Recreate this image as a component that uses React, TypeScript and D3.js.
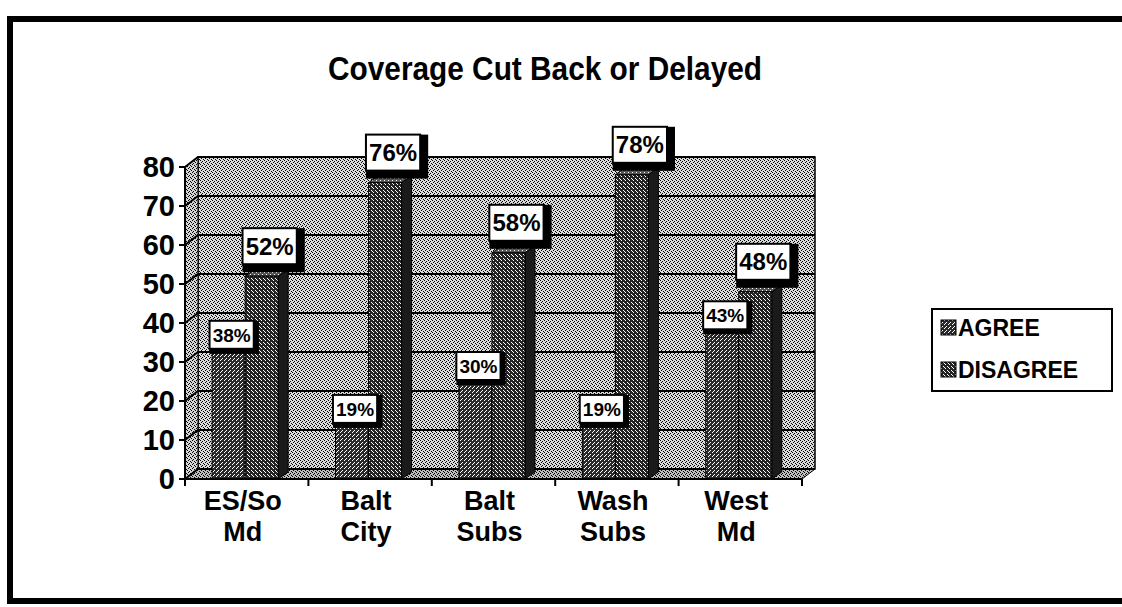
import React from "react";
import * as d3 from "d3";

const categories = ["ES/So|Md", "Balt|City", "Balt|Subs", "Wash|Subs", "West|Md"];
const series = ["AGREE", "DISAGREE"];
const agreeValues = [38, 19, 30, 19, 43];
const disagreeValues = [52, 76, 58, 78, 48];
const yTicks = [0, 10, 20, 30, 40, 50, 60, 70, 80];

const W = 1122;
const H = 607;
const FONT = "Arial, 'Liberation Sans', sans-serif";

// 3D offsets
const wallDx = 13;
const wallDy = -10;
const barDx = 10;
const barDy = -7;

const x = d3.scaleBand<string>().domain(categories).range([185, 802]);
const bw = x.bandwidth();
const sub = d3
  .scaleBand<string>()
  .domain(series)
  .range([bw * 0.22, bw * 0.755]);
const y = d3.scaleLinear().domain([0, 80]).range([479, 167]);

const pts = (p: [number, number][]) => p.map((d) => d.join(",")).join(" ");

const barStyles = {
  AGREE: { front: "url(#dA)", side: "#1e1e1e", top: "url(#dT)", swatch: "url(#dA)" },
  DISAGREE: { front: "url(#dD)", side: "#1a1a1a", top: "url(#dT)", swatch: "url(#dD)" },
} as Record<string, { front: string; side: string; top: string; swatch: string }>;

// small dither patterns to mimic the scanned halftone look
const Dither = ({ id, base, dot, cells }: { id: string; base: string; dot: string; cells: number[][] }) => (
  <pattern id={id} width={4} height={4} patternUnits="userSpaceOnUse">
    <rect width={4} height={4} fill={base} />
    {cells.map(([cx, cy], i) => (
      <rect key={i} x={cx} y={cy} width={1} height={1} fill={dot} />
    ))}
  </pattern>
);

const Bar = ({ cat, s, v }: { cat: string; s: string; v: number }) => {
  const x0 = (x(cat) as number) + (sub(s) as number);
  const w = sub.bandwidth();
  const y0 = y(0);
  const yt = y(v);
  const c = barStyles[s];
  return (
    <g stroke="#000" strokeWidth={1}>
      <polygon
        fill={c.side}
        points={pts([
          [x0 + w, y0],
          [x0 + w + barDx, y0 + barDy],
          [x0 + w + barDx, yt + barDy],
          [x0 + w, yt],
        ])}
      />
      <polygon
        fill={c.top}
        points={pts([
          [x0, yt],
          [x0 + w, yt],
          [x0 + w + barDx, yt + barDy],
          [x0 + barDx, yt + barDy],
        ])}
      />
      <rect x={x0} y={yt} width={w} height={y0 - yt} fill={c.front} />
    </g>
  );
};

const Label = ({ cat, s, v }: { cat: string; s: string; v: number }) => {
  const big = s === "DISAGREE";
  const fs = big ? 24 : 19;
  const text = `${v}%`;
  const tw = text.length * fs * 0.67;
  const bwid = tw + 6;
  const bh = big ? 36 : 28;
  const x0 = (x(cat) as number) + (sub(s) as number);
  const cx = x0 + sub.bandwidth() / 2 + (big ? 8 : 3);
  const cy = big ? y(v) - 30 : y(v) + 4;
  const sh = big ? 8 : 5;
  return (
    <g>
      <rect x={cx - bwid / 2} y={cy - bh / 2} width={bwid + sh} height={bh + sh} fill="#000" />
      <rect
        x={cx - bwid / 2}
        y={cy - bh / 2}
        width={bwid}
        height={bh}
        fill="#fff"
        stroke="#000"
        strokeWidth={2}
      />
      <text
        x={cx}
        y={cy}
        dy="0.36em"
        textAnchor="middle"
        fontFamily={FONT}
        fontWeight="bold"
        fontSize={fs}
        fill="#000"
      >
        {text}
      </text>
    </g>
  );
};

export default function App() {
  const xl = 185;
  const xr = 802;
  const y0 = y(0);
  const yTop = y(80);
  const values: Record<string, number[]> = { AGREE: agreeValues, DISAGREE: disagreeValues };

  return (
    <svg
      width={W}
      height={H}
      viewBox={`0 0 ${W} ${H}`}
      style={{ position: "absolute", left: 0, top: 0, background: "#fff" }}
    >
      <defs>
        <Dither id="wall" base="#dcdcdc" dot="#000" cells={[[0, 0], [2, 1], [1, 2], [3, 3]]} />
        <Dither id="side" base="#d4d4d4" dot="#000" cells={[[0, 0], [2, 1], [1, 3], [3, 2]]} />
        <Dither id="floor" base="#bdbdbd" dot="#000" cells={[[0, 0], [2, 1], [1, 2], [3, 3]]} />
        <Dither id="dA" base="#2a2a2a" dot="#fff" cells={[[0, 0], [2, 2], [1, 3]]} />
        <Dither id="dD" base="#242424" dot="#fff" cells={[[1, 0], [3, 2], [0, 3]]} />
        <Dither id="dT" base="#555" dot="#fff" cells={[[0, 0], [2, 2]]} />
      </defs>
      <rect x={0} y={0} width={W} height={H} fill="#fff" />
      {/* outer frame */}
      <rect x={10} y={19} width={1125} height={582} fill="none" stroke="#000" strokeWidth={6} />

      {/* title */}
      <text
        x={545}
        y={80}
        textAnchor="middle"
        fontFamily={FONT}
        fontWeight="bold"
        fontSize={33}
        textLength={434}
        lengthAdjust="spacingAndGlyphs"
        fill="#000"
      >
        Coverage Cut Back or Delayed
      </text>

      {/* back wall */}
      <rect
        x={xl + wallDx}
        y={yTop + wallDy}
        width={xr - xl}
        height={y0 - yTop}
        fill="url(#wall)"
        stroke="#000"
        strokeWidth={1.5}
      />
      {/* side wall */}
      <polygon
        fill="url(#side)"
        stroke="#000"
        strokeWidth={1}
        points={pts([
          [xl, y0],
          [xl + wallDx, y0 + wallDy],
          [xl + wallDx, yTop + wallDy],
          [xl, yTop],
        ])}
      />
      {/* floor */}
      <polygon
        fill="url(#floor)"
        stroke="#000"
        strokeWidth={1}
        points={pts([
          [xl, y0],
          [xr, y0],
          [xr + wallDx, y0 + wallDy],
          [xl + wallDx, y0 + wallDy],
        ])}
      />
      {/* gridlines */}
      <g stroke="#000" strokeWidth={2} fill="none">
        {yTicks.map((t) => (
          <polyline
            key={t}
            points={pts([
              [xl, y(t)],
              [xl + wallDx, y(t) + wallDy],
              [xr + wallDx, y(t) + wallDy],
            ])}
          />
        ))}
      </g>

      {/* bars */}
      {categories.map((c, i) => (
        <g key={c}>
          {series.map((s) => (
            <Bar key={s} cat={c} s={s} v={values[s][i]} />
          ))}
        </g>
      ))}

      {/* axes */}
      <g stroke="#000" strokeWidth={2}>
        <line x1={xl} x2={xl} y1={yTop} y2={y0} />
        {yTicks.map((t) => (
          <line key={t} x1={xl - 6} x2={xl} y1={y(t)} y2={y(t)} />
        ))}
        <line x1={xl} x2={xr} y1={y0} y2={y0} />
        {[...categories.map((c) => x(c) as number), xr].map((px, i) => (
          <line key={i} x1={px} x2={px} y1={y0} y2={y0 + 7} />
        ))}
      </g>
      <g fontFamily={FONT} fontWeight="bold" fill="#000">
        {yTicks.map((t) => (
          <text key={t} x={xl - 10} y={y(t)} dy="0.36em" textAnchor="end" fontSize={29}>
            {t}
          </text>
        ))}
        {categories.map((c) => {
          const cx = (x(c) as number) + bw / 2 - 4;
          return c.split("|").map((line, j) => (
            <text key={c + j} x={cx} y={510 + j * 31} textAnchor="middle" fontSize={27}>
              {line}
            </text>
          ));
        })}
      </g>

      {/* data labels */}
      {categories.map((c, i) => (
        <g key={c}>
          {series.map((s) => (
            <Label key={s} cat={c} s={s} v={values[s][i]} />
          ))}
        </g>
      ))}

      {/* legend */}
      <rect x={932} y={309} width={180} height={82} fill="#fff" stroke="#000" strokeWidth={2} />
      {series.map((s, i) => (
        <g key={s}>
          <rect
            x={941}
            y={320 + i * 42}
            width={15}
            height={15}
            fill={barStyles[s].swatch}
            stroke="#000"
            strokeWidth={1}
          />
          <text
            x={958}
            y={336 + i * 42}
            fontFamily={FONT}
            fontWeight="bold"
            fontSize={23}
            fill="#000"
          >
            {s}
          </text>
        </g>
      ))}
    </svg>
  );
}
